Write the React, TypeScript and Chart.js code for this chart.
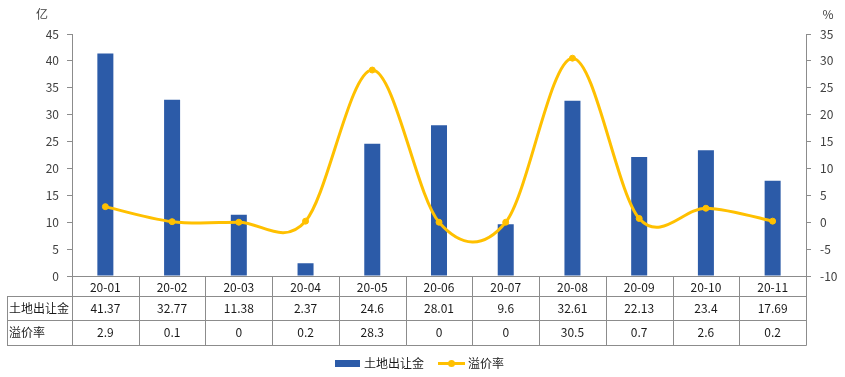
import React, { useEffect, useRef } from 'react';
import { Chart, registerables } from 'chart.js';

Chart.register(...registerables);

const categories = ['20-01', '20-02', '20-03', '20-04', '20-05', '20-06', '20-07', '20-08', '20-09', '20-10', '20-11'];
const landSales = [41.37, 32.77, 11.38, 2.37, 24.6, 28.01, 9.6, 32.61, 22.13, 23.4, 17.69];
const premiumRate = [2.9, 0.1, 0, 0.2, 28.3, 0, 0, 30.5, 0.7, 2.6, 0.2];
const seriesNames = ['土地出让金', '溢价率'];
const leftUnit = '亿';
const rightUnit = '%';
const leftRange = [0, 45];
const rightRange = [-10, 35];
const tickStep = 5;

const FONT = '"Microsoft YaHei", "Noto Sans CJK SC", sans-serif';
const BAR_COLOR = '#2C5BA8';
const LINE_COLOR = '#FFC000';
const AXIS_COLOR = '#8C8C8C';
const TICK_TEXT = '#404040';
const TABLE_TEXT = '#1A1A1A';

const excelSmooth = {
  id: 'excelSmooth',
  beforeDatasetDraw(chart: any, args: any) {
    const meta = args.meta;
    if (meta.type !== 'line') return;
    const line = meta.dataset;
    if (line && line.updateControlPoints) line.updateControlPoints(chart.chartArea, 'x');
    const pts = meta.data;
    const n = pts.length;
    for (let i = 0; i < n; i++) {
      const p = pts[i];
      const prev = pts[Math.max(0, i - 1)];
      const next = pts[Math.min(n - 1, i + 1)];
      const dx = (next.x - prev.x) / 6;
      const dy = (next.y - prev.y) / 6;
      p.cp1x = p.x - dx;
      p.cp1y = p.y - dy;
      p.cp2x = p.x + dx;
      p.cp2y = p.y + dy;
    }
  },
};

const tablePlugin = {
  id: 'dataTable',
  afterDraw(chart: any) {
    const ctx = chart.ctx as CanvasRenderingContext2D;
    const { left, right, bottom } = chart.chartArea;
    const xScale = chart.scales.x;
    const n = categories.length;
    const w = (right - left) / n;
    const tableLeft = 7;
    const rows = [bottom, bottom + 20, bottom + 44, bottom + 69];
    const a = (v: number) => Math.round(v) + 0.5;

    ctx.save();
    ctx.strokeStyle = AXIS_COLOR;
    ctx.lineWidth = 1;
    ctx.beginPath();
    // top (axis) line
    ctx.moveTo(left, a(rows[0]));
    ctx.lineTo(right, a(rows[0]));
    for (let r = 1; r < rows.length; r++) {
      ctx.moveTo(tableLeft, a(rows[r]));
      ctx.lineTo(right + 0.5, a(rows[r]));
    }
    for (let i = 0; i <= n; i++) {
      const x = a(left + i * w);
      ctx.moveTo(x, rows[0]);
      ctx.lineTo(x, a(rows[3]));
    }
    ctx.moveTo(a(tableLeft), a(rows[1]));
    ctx.lineTo(a(tableLeft), a(rows[3]));
    ctx.stroke();

    ctx.font = `12px ${FONT}`;
    ctx.fillStyle = TABLE_TEXT;
    ctx.textBaseline = 'middle';
    ctx.textAlign = 'center';
    for (let i = 0; i < n; i++) {
      const cx = xScale.getPixelForValue(i);
      ctx.fillText(categories[i], cx, (rows[0] + rows[1]) / 2 + 1);
      ctx.fillText(String(landSales[i]), cx, (rows[1] + rows[2]) / 2);
      ctx.fillText(String(premiumRate[i]), cx, (rows[2] + rows[3]) / 2);
    }
    ctx.textAlign = 'left';
    ctx.fillText(seriesNames[0], tableLeft + 2, (rows[1] + rows[2]) / 2);
    ctx.fillText(seriesNames[1], tableLeft + 2, (rows[2] + rows[3]) / 2);

    // units
    ctx.fillStyle = TICK_TEXT;
    ctx.textAlign = 'center';
    ctx.fillText(leftUnit, 42, 14);
    ctx.fillText(rightUnit, 828, 14);

    // legend
    const ly = 363;
    const t1 = ctx.measureText(seriesNames[0]).width;
    const t2 = ctx.measureText(seriesNames[1]).width;
    const total = 25 + 4 + t1 + 14 + 27 + 3 + t2;
    let x = chart.width / 2 - total / 2 - 3;
    ctx.fillStyle = BAR_COLOR;
    ctx.fillRect(Math.round(x), ly - 3, 25, 7);
    x += 29;
    ctx.fillStyle = TABLE_TEXT;
    ctx.textAlign = 'left';
    ctx.fillText(seriesNames[0], x, ly);
    x += t1 + 14;
    ctx.strokeStyle = LINE_COLOR;
    ctx.lineWidth = 3;
    ctx.beginPath();
    ctx.moveTo(x, ly + 0.5);
    ctx.lineTo(x + 27, ly + 0.5);
    ctx.stroke();
    ctx.fillStyle = LINE_COLOR;
    ctx.beginPath();
    ctx.arc(x + 13.5, ly + 0.5, 3.5, 0, Math.PI * 2);
    ctx.fill();
    x += 30;
    ctx.fillStyle = TABLE_TEXT;
    ctx.fillText(seriesNames[1], x, ly);
    ctx.restore();
  },
};

export default function App() {
  const ref = useRef<HTMLCanvasElement | null>(null);
  useEffect(() => {
    if (!ref.current) return;
    const chart = new Chart(ref.current, {
      type: 'bar',
      data: {
        labels: categories,
        datasets: [
          {
            type: 'line',
            label: seriesNames[1],
            data: premiumRate,
            yAxisID: 'y1',
            borderColor: LINE_COLOR,
            backgroundColor: LINE_COLOR,
            borderWidth: 3,
            pointRadius: 3,
            pointBorderWidth: 1,
            pointBackgroundColor: LINE_COLOR,
            pointBorderColor: LINE_COLOR,
            tension: 0.4,
            order: 0,
          } as any,
          {
            type: 'bar',
            label: seriesNames[0],
            data: landSales,
            yAxisID: 'y',
            backgroundColor: BAR_COLOR,
            barPercentage: 0.24,
            categoryPercentage: 1,
            order: 1,
          },
        ],
      },
      options: {
        animation: false,
        responsive: true,
        maintainAspectRatio: false,
        layout: { padding: { top: 34, bottom: 101, left: 0, right: 0 } },
        plugins: { legend: { display: false }, tooltip: { enabled: false } },
        scales: {
          x: { display: false },
          y: {
            position: 'left',
            min: leftRange[0],
            max: leftRange[1],
            ticks: { stepSize: tickStep, padding: 8, color: TICK_TEXT, font: { size: 12, family: FONT } },
            grid: { drawOnChartArea: false, drawTicks: true, tickLength: 5, color: AXIS_COLOR },
            border: { color: AXIS_COLOR, width: 1 },
            afterFit: (s: any) => { s.width = 72; },
          },
          y1: {
            position: 'right',
            min: rightRange[0],
            max: rightRange[1],
            ticks: { stepSize: tickStep, padding: 9, color: TICK_TEXT, font: { size: 12, family: FONT } },
            grid: { drawOnChartArea: false, drawTicks: true, tickLength: 5, color: AXIS_COLOR },
            border: { color: AXIS_COLOR, width: 1 },
            afterFit: (s: any) => { s.width = 39; },
          },
        },
      },
      plugins: [excelSmooth, tablePlugin],
    });
    return () => chart.destroy();
  }, []);
  return (
    <div style={{ position: 'absolute', left: 0, top: 0, width: 845, height: 377 }}>
      <canvas ref={ref} />
    </div>
  );
}
